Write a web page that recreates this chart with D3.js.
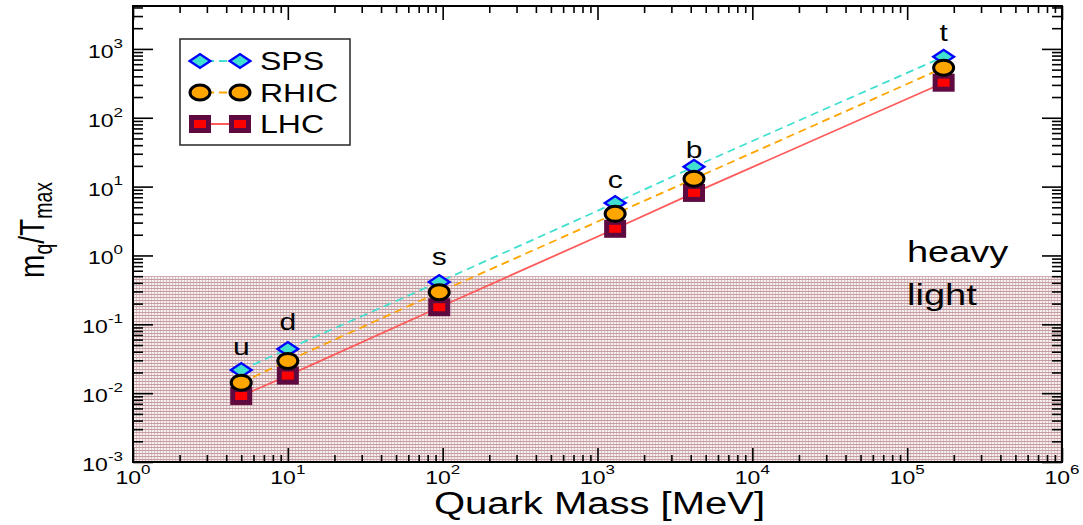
<!DOCTYPE html>
<html>
<head>
<meta charset="utf-8">
<script src="https://cdn.jsdelivr.net/npm/d3@7"></script>
<style>
  html, body { margin: 0; padding: 0; background: #fff; }
  text { font-family: "Liberation Sans", Arial, Helvetica, sans-serif; fill: #000; }
</style>
</head>
<body>
<svg id="chart" width="1083" height="525"></svg>
<script>
// ─── data ─────────────────────────────────────────────────────────────────────
const quarks = ["u", "d", "s", "c", "b", "t"];
const quarkMass = [5, 10, 95, 1300, 4200, 172000];          // MeV
const sps  = [0.0217, 0.0439, 0.413, 5.8, 19.4, 770];
const rhic = [0.0142, 0.0294, 0.293, 4.03, 13.0, 533];
const lhc  = [0.0091, 0.018, 0.177, 2.44, 8.1, 323];
const quarkLabelAt = [0.047, 0.108, 0.95, 12.6, 34, 1720];  // label height, in y units
const lightHeavyCut = 0.5;
const xDomain = [1, 1e6];
const yDomain = [1e-3, 4200];
const xMajors = [1, 1e1, 1e2, 1e3, 1e4, 1e5, 1e6];
const yMajors = [1e-3, 1e-2, 1e-1, 1e0, 1e1, 1e2, 1e3];
const legendNames = ["SPS", "RHIC", "LHC"];

// ─── layout ──────────────────────────────────────────────────────────────────
const W = 1083, H = 525;
const margin = { top: 6, right: 21, bottom: 63, left: 133 };
const w = W - margin.left - margin.right;
const h = H - margin.top - margin.bottom;
const SQ = 0.78; // the original figure is squashed vertically

const svg = d3.select("#chart");
const defs = svg.append("defs");
const pat = defs.append("pattern").attr("id", "hatch")
  .attr("patternUnits", "userSpaceOnUse").attr("width", 3).attr("height", 3);
pat.append("rect").attr("width", 3).attr("height", 3).attr("fill", "#f6eeee");
pat.append("rect").attr("width", 1).attr("height", 3).attr("fill", "#dcc3c5");
pat.append("rect").attr("width", 3).attr("height", 1).attr("fill", "#c59ca0");
defs.append("clipPath").attr("id", "clip").append("rect").attr("width", w).attr("height", h);

const x = d3.scaleLog().domain(xDomain).range([0, w]);
const y = d3.scaleLog().domain(yDomain).range([h, 0]);

const g = svg.append("g").attr("transform", `translate(${margin.left},${margin.top})`);

// light region
g.append("rect")
  .attr("x", 0).attr("y", y(lightHeavyCut))
  .attr("width", w).attr("height", h - y(lightHeavyCut))
  .attr("fill", "url(#hatch)");

// ─── axes (ticks inward on all four sides) ───────────────────────────────────
function minorsOf(majors, dom) {
  const out = [];
  majors.forEach((m) => { for (let k = 2; k <= 9; k++) { const v = m * k; if (v > dom[0] && v < dom[1]) out.push(v); } });
  return out;
}
const xMinors = minorsOf(xMajors, xDomain);
const yMinors = minorsOf(yMajors, yDomain);

function axis(gen, vals, size, tx) {
  const a = g.append("g").attr("transform", tx || null)
    .call(gen.tickValues(vals).tickSize(size).tickFormat(""));
  a.select(".domain").remove();
  a.selectAll(".tick line").attr("stroke", "#000").attr("stroke-width", 1.6);
}
axis(d3.axisBottom(x), xMajors, -14, `translate(0,${h})`);
axis(d3.axisBottom(x), xMinors, -7, `translate(0,${h})`);
axis(d3.axisTop(x), xMajors, -14);
axis(d3.axisTop(x), xMinors, -7);
axis(d3.axisLeft(y), yMajors, -20);
axis(d3.axisLeft(y), yMinors, -10);
axis(d3.axisRight(y), yMajors, -20, `translate(${w},0)`);
axis(d3.axisRight(y), yMinors, -10, `translate(${w},0)`);

g.append("rect").attr("width", w).attr("height", h)
  .attr("fill", "none").attr("stroke", "#000").attr("stroke-width", 2);

// power-of-ten labels
function powLabel(parent, px, py, exp, anchor) {
  const t = parent.append("g").attr("transform", `translate(${px},${py}) scale(1,${SQ})`)
    .append("text").attr("text-anchor", anchor).attr("font-size", 23);
  t.append("tspan").text("10");
  t.append("tspan").attr("font-size", 17).attr("dy", -13).text(exp);
}
xMajors.forEach((v) => powLabel(g, x(v), h + 22, String(Math.round(Math.log10(v))), "middle"));
yMajors.forEach((v) => powLabel(g, -10, y(v) + 9, String(Math.round(Math.log10(v))), "end"));

// axis titles
g.append("g").attr("transform", `translate(${w / 2 + 2},${h + 52}) scale(1,${SQ})`)
  .append("text").attr("text-anchor", "middle").attr("font-size", 40).text("Quark Mass [MeV]");

const yl = svg.append("g").attr("transform", `translate(44,${margin.top + h / 2 - 4}) scale(1,${SQ}) rotate(-90)`)
  .append("text").attr("text-anchor", "middle").attr("font-size", 36);
yl.append("tspan").text("m");
yl.append("tspan").attr("font-size", 25).attr("dy", 8).text("q");
yl.append("tspan").attr("dy", -8).text("/T");
yl.append("tspan").attr("font-size", 25).attr("dy", 8).text("max");

// ─── series ──────────────────────────────────────────────────────────────────
const series = [
  { name: "SPS", vals: sps, color: "#40e0d0", dash: "8,5", mark: "diamond" },
  { name: "RHIC", vals: rhic, color: "#ffa500", dash: "8,5", mark: "circle" },
  { name: "LHC", vals: lhc, color: "#ff5a5a", dash: null, mark: "square" },
];

const plot = g.append("g").attr("clip-path", "url(#clip)");
const line = d3.line().x((d) => x(d[0])).y((d) => y(d[1]));
series.forEach((s) => {
  plot.append("path").datum(quarkMass.map((m, i) => [m, s.vals[i]]))
    .attr("fill", "none").attr("stroke", s.color).attr("stroke-width", 1.8)
    .attr("stroke-dasharray", s.dash).attr("d", line);
});

const diamondPath = d3.symbol(d3.symbolSquare, 215)();
function marker(parent, kind, px, py) {
  if (kind === "diamond") {
    parent.append("path").attr("d", diamondPath)
      .attr("transform", `translate(${px},${py}) scale(1,0.66) rotate(45)`)
      .attr("fill", "#40e0d0").attr("stroke", "#0000ff").attr("stroke-width", 3);
  } else if (kind === "circle") {
    parent.append("ellipse").attr("cx", px).attr("cy", py).attr("rx", 10).attr("ry", 7.5)
      .attr("fill", "#ffa500").attr("stroke", "#000").attr("stroke-width", 3);
  } else {
    parent.append("rect").attr("x", px - 8.5).attr("y", py - 6.5).attr("width", 17).attr("height", 13)
      .attr("fill", "#ff0000").attr("stroke", "#5e0a40").attr("stroke-width", 5);
  }
}
[series[0], series[2], series[1]].forEach((s) => {
  quarkMass.forEach((m, i) => marker(g, s.mark, x(m), y(s.vals[i])));
});

// quark names
quarks.forEach((q, i) => {
  g.append("g").attr("transform", `translate(${x(quarkMass[i])},${y(quarkLabelAt[i])}) scale(1,${SQ})`)
    .append("text").attr("text-anchor", "middle").attr("dy", "0.35em")
    .attr("font-size", 30).text(q);
});

// heavy / light, placed either side of the cut
[["heavy", -14], ["light", 29]].forEach(([t, off]) => {
  g.append("g").attr("transform", `translate(${w - 155},${y(lightHeavyCut) + off}) scale(1,${SQ})`)
    .append("text").attr("font-size", 38).text(t);
});

// ─── legend ──────────────────────────────────────────────────────────────────
const lg = svg.append("g").attr("transform", "translate(180,39)");
lg.append("rect").attr("width", 170).attr("height", 106)
  .attr("fill", "#fff").attr("stroke", "#333").attr("stroke-width", 1.6);
series.forEach((s, i) => {
  const ry = 22 + i * 31.5;
  lg.append("line").attr("x1", 20).attr("x2", 60).attr("y1", ry).attr("y2", ry)
    .attr("stroke", s.color).attr("stroke-width", 1.8).attr("stroke-dasharray", s.dash ? "8,5" : null)
    .attr("stroke-dashoffset", s.dash ? -6 : null);
  marker(lg, s.mark, 20, ry);
  marker(lg, s.mark, 60, ry);
  lg.append("g").attr("transform", `translate(80,${ry + 9}) scale(1,${SQ})`)
    .append("text").attr("font-size", 32).text(legendNames[i]);
});
</script>
</body>
</html>
